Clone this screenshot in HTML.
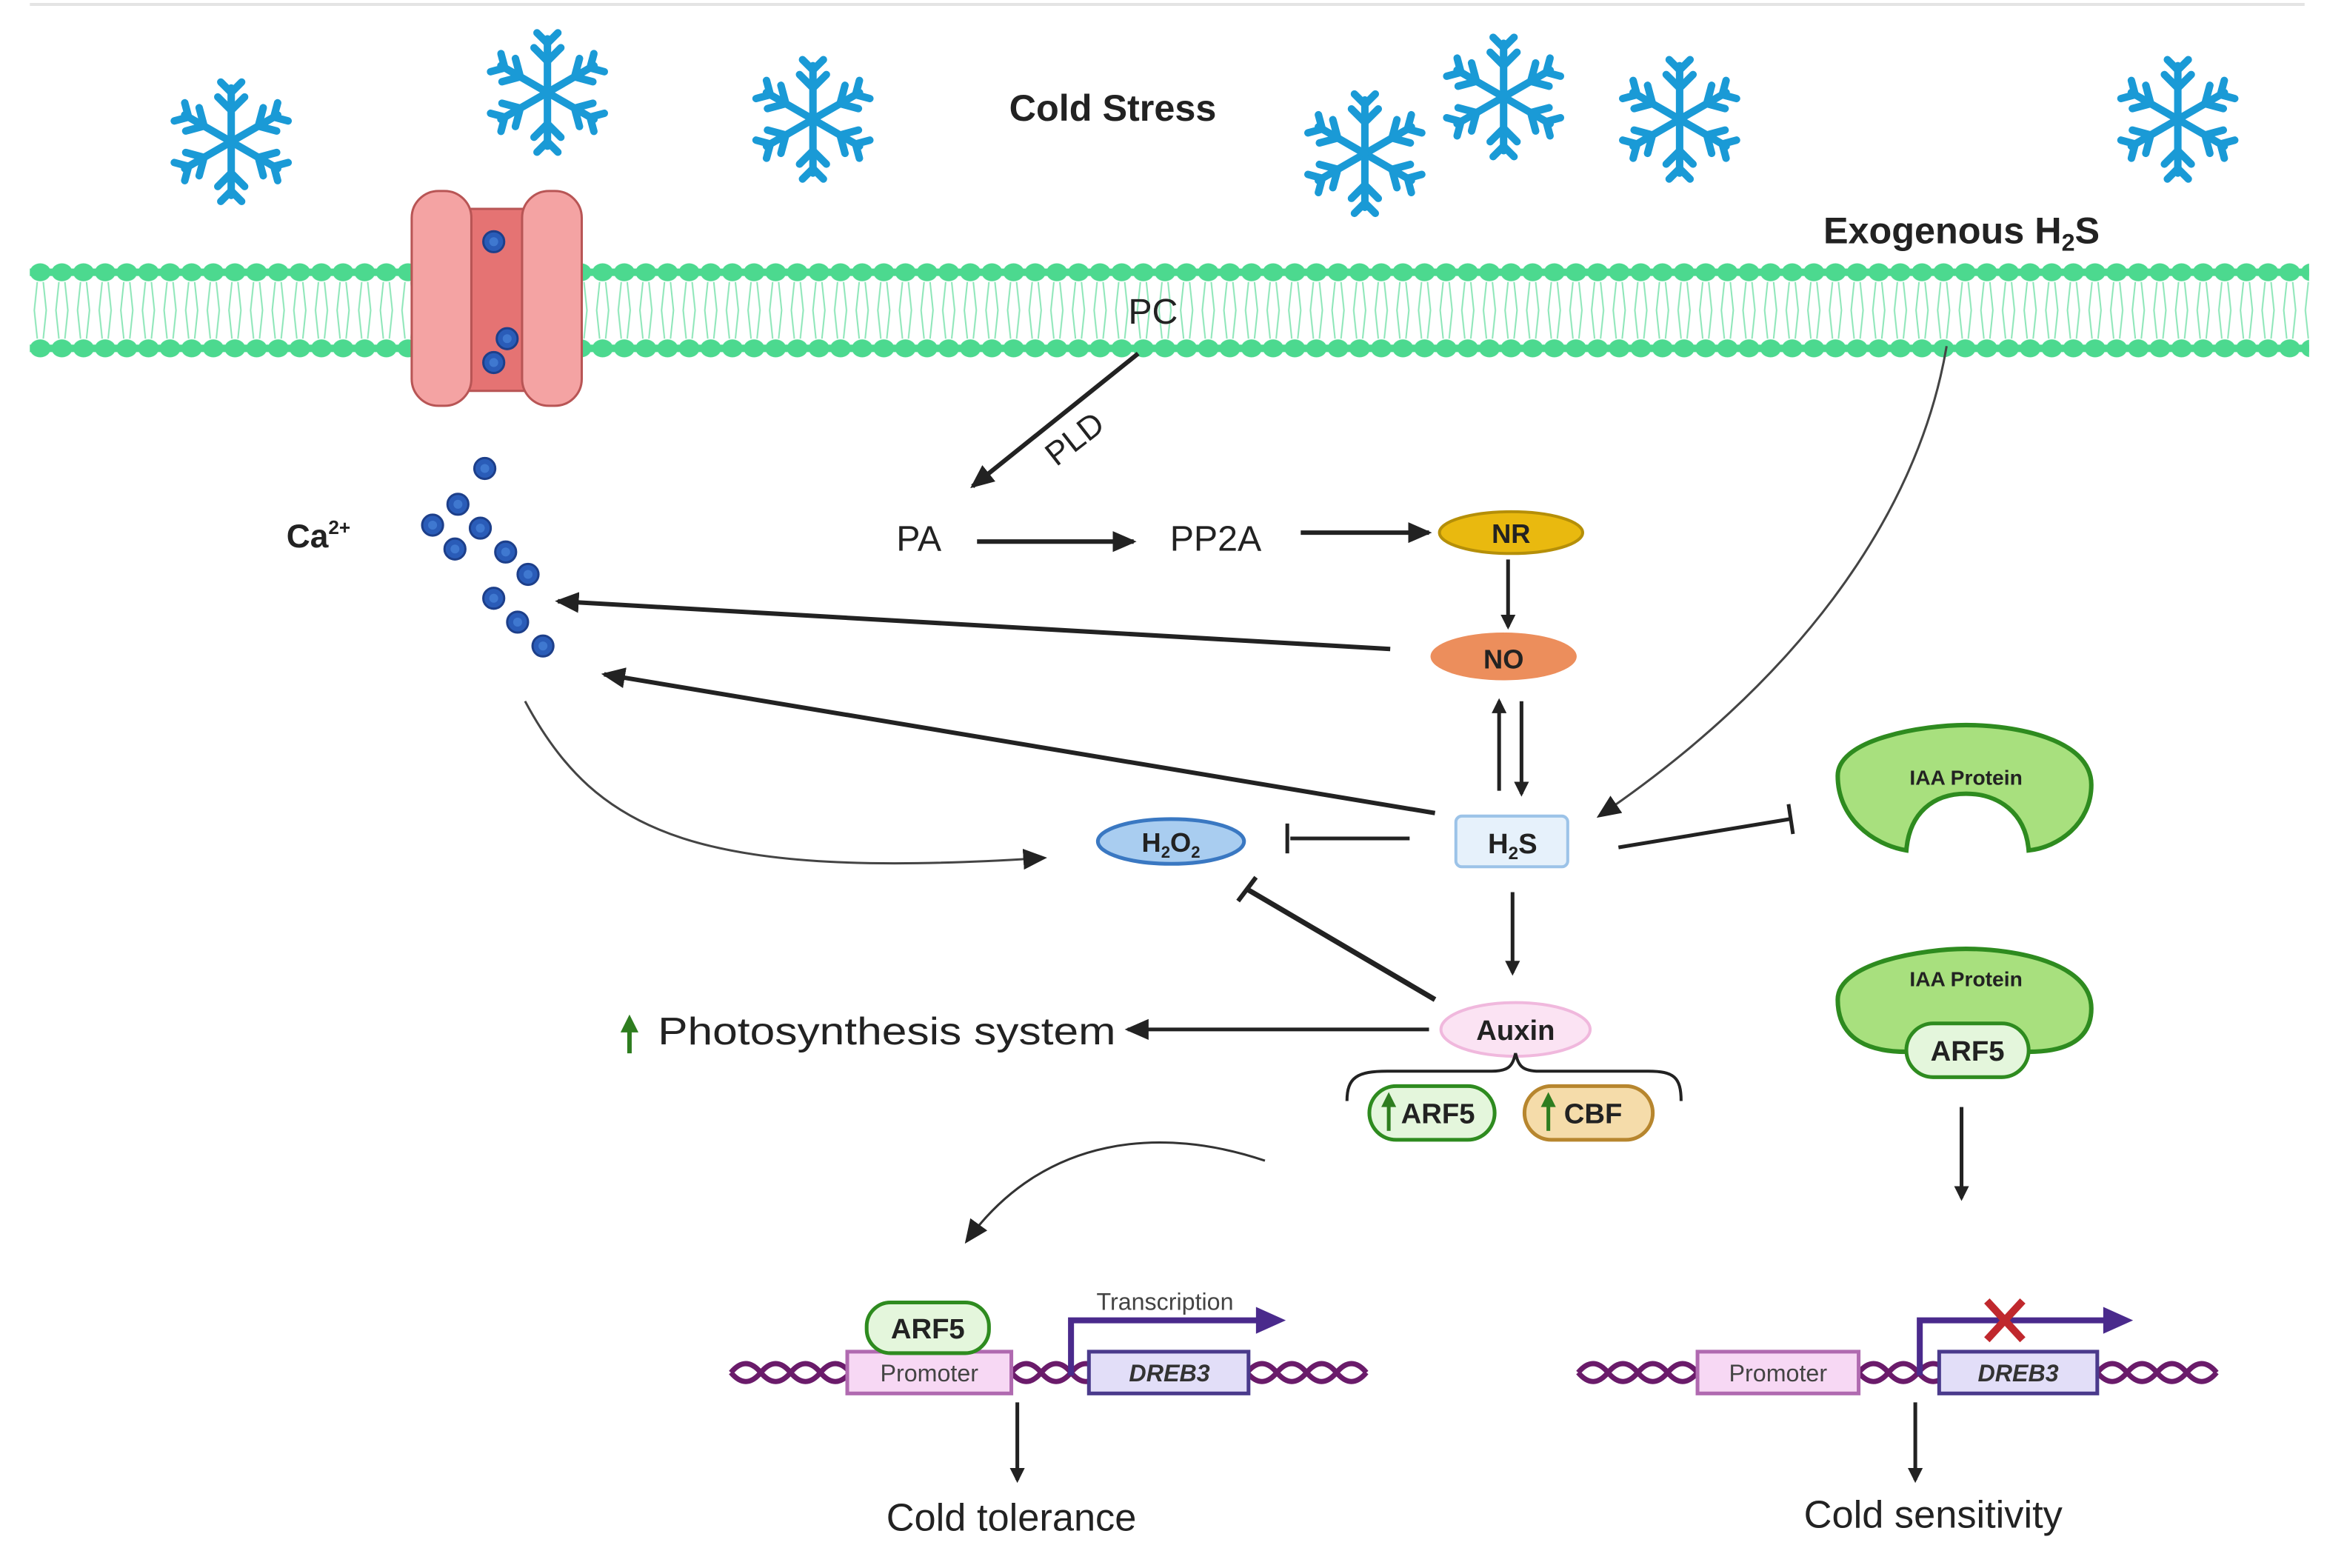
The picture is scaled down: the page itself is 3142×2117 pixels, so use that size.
<!DOCTYPE html>
<html><head><meta charset="utf-8"><style>
html,body{margin:0;padding:0;background:#fff;}
svg{display:block;}
text{font-family:"Liberation Sans",Arial,sans-serif;}
</style></head><body>
<svg width="3142" height="2117" viewBox="0 0 1560 1051" preserveAspectRatio="none" xmlns="http://www.w3.org/2000/svg">
<defs>
<marker id="ah" markerWidth="10" markerHeight="10" refX="8" refY="5" orient="auto" markerUnits="userSpaceOnUse"><path d="M0,0 L10,5 L0,10 z" fill="#222"/></marker>
<marker id="ahL" markerWidth="16" markerHeight="14" refX="14" refY="7" orient="auto" markerUnits="userSpaceOnUse"><path d="M0,0 L16,7 L0,14 z" fill="#222"/></marker>
<g id="flake" stroke="#1a9ad6" stroke-width="5" stroke-linecap="round" fill="none">
<g id="arm"><line x1="0" y1="0" x2="0" y2="-36"/><polyline points="-9,-30 0,-21 9,-30"/><polyline points="-7,-40 0,-33 7,-40"/></g>
<use href="#arm" transform="rotate(60)"/><use href="#arm" transform="rotate(120)"/><use href="#arm" transform="rotate(180)"/><use href="#arm" transform="rotate(240)"/><use href="#arm" transform="rotate(300)"/>
</g>
<g id="ion"><circle r="7" fill="#2a5cb8" stroke="#1d3f8a" stroke-width="1.5"/><circle r="3" fill="#3f78d0"/></g>
<pattern id="hp1" x="20" y="176" width="14.5" height="13" patternUnits="userSpaceOnUse"><ellipse cx="7" cy="6.5" rx="7" ry="6" fill="#4cd98f"/></pattern>
<pattern id="hp2" x="20" y="227" width="14.5" height="13" patternUnits="userSpaceOnUse"><ellipse cx="7" cy="6.5" rx="7" ry="6" fill="#4cd98f"/></pattern>
<pattern id="tails" x="20" y="189" width="14.5" height="38" patternUnits="userSpaceOnUse"><path d="M5,0 L3,19 L5,38 M9,0 L11,19 L9,38" stroke="#8de6b8" stroke-width="1" fill="none"/></pattern>
</defs>
<rect width="1560" height="1051" fill="#fff"/>
<line x1="20" y1="3" x2="1545" y2="3" stroke="#e4e4e4" stroke-width="2"/>

<use href="#flake" transform="translate(155,95)"/>
<use href="#flake" transform="translate(367,62)"/>
<use href="#flake" transform="translate(545,80)"/>
<use href="#flake" transform="translate(915,103)"/>
<use href="#flake" transform="translate(1008,65)"/>
<use href="#flake" transform="translate(1126,80)"/>
<use href="#flake" transform="translate(1460,80)"/>
<text x="746" y="81" font-size="25" font-weight="bold" text-anchor="middle" fill="#222">Cold Stress</text>
<text x="1315" y="163" font-size="25" font-weight="bold" text-anchor="middle" fill="#222">Exogenous H<tspan font-size="16" dy="5">2</tspan><tspan dy="-5">S</tspan></text>

<rect x="20" y="180" width="1528" height="5" fill="#4cd98f"/>
<rect x="20" y="231" width="1528" height="5" fill="#4cd98f"/>
<rect x="20" y="176" width="1528" height="13" fill="url(#hp1)"/>
<rect x="20" y="227" width="1528" height="13" fill="url(#hp2)"/>
<rect x="20" y="189" width="1528" height="38" fill="url(#tails)"/>

<g stroke="#b85555" stroke-width="1.5">
<rect x="310" y="140" width="46" height="122" fill="#e57373"/>
<rect x="276" y="128" width="40" height="144" rx="18" fill="#f4a3a3"/>
<rect x="350" y="128" width="40" height="144" rx="18" fill="#f4a3a3"/>
</g>
<use href="#ion" transform="translate(331,162)"/>
<use href="#ion" transform="translate(340,227)"/>
<use href="#ion" transform="translate(331,243)"/>

<text x="192" y="367" font-size="22" font-weight="bold" fill="#222">Ca<tspan font-size="13" dy="-9">2+</tspan></text>
<use href="#ion" transform="translate(325,314)"/>
<use href="#ion" transform="translate(307,338)"/>
<use href="#ion" transform="translate(290,352)"/>
<use href="#ion" transform="translate(322,354)"/>
<use href="#ion" transform="translate(305,368)"/>
<use href="#ion" transform="translate(339,370)"/>
<use href="#ion" transform="translate(354,385)"/>
<use href="#ion" transform="translate(331,401)"/>
<use href="#ion" transform="translate(347,417)"/>
<use href="#ion" transform="translate(364,433)"/>

<text x="773" y="217" font-size="24" text-anchor="middle" fill="#222">PC</text>
<line x1="763" y1="237" x2="652" y2="326" stroke="#222" stroke-width="3" marker-end="url(#ahL)"/>
<text x="725" y="300" font-size="22" fill="#222" transform="rotate(-38 725 300)" text-anchor="middle">PLD</text>
<text x="616" y="369" font-size="24" text-anchor="middle" fill="#222">PA</text>
<line x1="655" y1="363" x2="760" y2="363" stroke="#222" stroke-width="3" marker-end="url(#ahL)"/>
<text x="815" y="369" font-size="24" text-anchor="middle" fill="#222">PP2A</text>
<line x1="872" y1="357" x2="958" y2="357" stroke="#222" stroke-width="3" marker-end="url(#ahL)"/>

<ellipse cx="1013" cy="357" rx="48" ry="14" fill="#e9b90f" stroke="#b58f08" stroke-width="2"/>
<text x="1013" y="364" font-size="18" font-weight="bold" text-anchor="middle" fill="#222">NR</text>
<line x1="1011" y1="375" x2="1011" y2="420" stroke="#222" stroke-width="2.5" marker-end="url(#ah)"/>
<ellipse cx="1008" cy="440" rx="49" ry="16" fill="#ec8e5c"/>
<text x="1008" y="448" font-size="18" font-weight="bold" text-anchor="middle" fill="#222">NO</text>
<line x1="1005" y1="530" x2="1005" y2="470" stroke="#222" stroke-width="2.5" marker-end="url(#ah)"/>
<line x1="1020" y1="470" x2="1020" y2="532" stroke="#222" stroke-width="2.5" marker-end="url(#ah)"/>

<line x1="932" y1="435" x2="374" y2="403" stroke="#222" stroke-width="3" marker-end="url(#ahL)"/>
<line x1="962" y1="545" x2="405" y2="452" stroke="#222" stroke-width="3" marker-end="url(#ahL)"/>

<path d="M1305,232 C1285,350 1200,460 1072,547" stroke="#444" stroke-width="1.5" fill="none" marker-end="url(#ahL)"/>

<rect x="976" y="547" width="75" height="34" rx="4" fill="#e6f1fb" stroke="#9cc3e8" stroke-width="2"/>
<text x="1014" y="572" font-size="19" font-weight="bold" text-anchor="middle" fill="#222">H<tspan font-size="12" dy="4">2</tspan><tspan dy="-4">S</tspan></text>

<ellipse cx="785" cy="564" rx="49" ry="15" fill="#a9cdf0" stroke="#3a78c2" stroke-width="2.5"/>
<text x="785" y="571" font-size="18" font-weight="bold" text-anchor="middle" fill="#222">H<tspan font-size="11" dy="4">2</tspan><tspan dy="-4">O</tspan><tspan font-size="11" dy="4">2</tspan></text>
<line x1="945" y1="562" x2="865" y2="562" stroke="#222" stroke-width="2.5"/>
<line x1="863" y1="552" x2="863" y2="572" stroke="#222" stroke-width="2.5"/>
<line x1="962" y1="670" x2="836" y2="596" stroke="#222" stroke-width="3.5"/>
<line x1="830" y1="604" x2="842" y2="588" stroke="#222" stroke-width="3"/>
<path d="M352,470 C400,560 470,590 700,575" stroke="#444" stroke-width="1.5" fill="none" marker-end="url(#ahL)"/>

<line x1="1085" y1="568" x2="1200" y2="549" stroke="#222" stroke-width="2.5"/>
<line x1="1199" y1="539" x2="1202" y2="559" stroke="#222" stroke-width="2.5"/>
<path d="M1232,520 C1232,495 1290,486 1318,486 C1350,486 1402,495 1402,526 C1402,552 1380,568 1360,570 C1358,545 1340,532 1318,532 C1296,532 1280,545 1278,570 C1255,566 1232,548 1232,520 Z" fill="#a8e07e" stroke="#2e8b1f" stroke-width="3"/>
<text x="1318" y="526" font-size="14" font-weight="bold" text-anchor="middle" fill="#222">IAA Protein</text>
<path d="M1232,670 C1232,645 1290,636 1318,636 C1350,636 1402,645 1402,676 C1402,700 1380,705 1360,705 L1278,705 C1255,705 1232,698 1232,670 Z" fill="#a8e07e" stroke="#2e8b1f" stroke-width="3"/>
<text x="1318" y="661" font-size="14" font-weight="bold" text-anchor="middle" fill="#222">IAA Protein</text>
<rect x="1278" y="686" width="82" height="36" rx="18" fill="#e4f6dc" stroke="#2e8b1f" stroke-width="2.5"/>
<text x="1319" y="711" font-size="19" font-weight="bold" text-anchor="middle" fill="#222">ARF5</text>
<line x1="1315" y1="742" x2="1315" y2="803" stroke="#222" stroke-width="2.5" marker-end="url(#ah)"/>

<line x1="1014" y1="598" x2="1014" y2="652" stroke="#222" stroke-width="2.5" marker-end="url(#ah)"/>
<ellipse cx="1016" cy="690" rx="50" ry="18" fill="#fbe3f3" stroke="#f0b8dd" stroke-width="2"/>
<text x="1016" y="697" font-size="19" font-weight="bold" text-anchor="middle" fill="#222">Auxin</text>
<line x1="958" y1="690" x2="756" y2="690" stroke="#222" stroke-width="2.5" marker-end="url(#ahL)"/>
<text x="441" y="700" font-size="26" fill="#222" textLength="307" lengthAdjust="spacingAndGlyphs">Photosynthesis system</text>
<line x1="422" y1="706" x2="422" y2="690" stroke="#2e7d1f" stroke-width="3"/>
<path d="M416,692 L422,680 L428,692 Z" fill="#2e7d1f"/>
<path d="M903,738 C903,722 910,718 930,718 L1000,718 C1012,718 1014,714 1016,706 C1018,714 1020,718 1032,718 L1105,718 C1122,718 1127,722 1127,738" stroke="#222" stroke-width="2" fill="none"/>
<rect x="918" y="728" width="84" height="36" rx="18" fill="#e4f6dc" stroke="#2e8b1f" stroke-width="2.5"/>
<text x="964" y="753" font-size="19" font-weight="bold" text-anchor="middle" fill="#222">ARF5</text>
<line x1="931" y1="758" x2="931" y2="740" stroke="#2e7d1f" stroke-width="2.5"/><path d="M926,742 L931,732 L936,742 Z" fill="#2e7d1f"/>
<rect x="1022" y="728" width="86" height="36" rx="18" fill="#f5dcaa" stroke="#b7862e" stroke-width="2.5"/>
<text x="1068" y="753" font-size="19" font-weight="bold" text-anchor="middle" fill="#222">CBF</text>
<line x1="1038" y1="758" x2="1038" y2="740" stroke="#2e7d1f" stroke-width="2.5"/><path d="M1033,742 L1038,732 L1043,742 Z" fill="#2e7d1f"/>

<path d="M848,778 C780,755 700,760 648,832" stroke="#333" stroke-width="1.5" fill="none" marker-end="url(#ahL)"/>

<g stroke="#6a1b6a" stroke-width="3.5" fill="none">
<path d="M490,920 q10,-12 20,0 t20,0 t20,0 t20,0 M490,920 q10,12 20,0 t20,0 t20,0 t20,0"/>
<path d="M678,920 q10,-12 20,0 t20,0 t20,0 M678,920 q10,12 20,0 t20,0 t20,0"/>
<path d="M836,920 q10,-12 20,0 t20,0 t20,0 t20,0 M836,920 q10,12 20,0 t20,0 t20,0 t20,0"/>
<path d="M1058,920 q10,-12 20,0 t20,0 t20,0 t20,0 M1058,920 q10,12 20,0 t20,0 t20,0 t20,0"/>
<path d="M1246,920 q10,-12 20,0 t20,0 t20,0 M1246,920 q10,12 20,0 t20,0 t20,0"/>
<path d="M1406,920 q10,-12 20,0 t20,0 t20,0 t20,0 M1406,920 q10,12 20,0 t20,0 t20,0 t20,0"/>
</g>
<rect x="568" y="906" width="110" height="28" fill="#f7d8f4" stroke="#b06ab0" stroke-width="2.5"/>
<text x="623" y="926" font-size="16" text-anchor="middle" fill="#444">Promoter</text>
<rect x="730" y="906" width="107" height="28" fill="#e2def8" stroke="#4a3a8c" stroke-width="2.5"/>
<text x="784" y="926" font-size="16" font-weight="bold" font-style="italic" text-anchor="middle" fill="#333">DREB3</text>
<rect x="581" y="873" width="82" height="34" rx="16" fill="#e4f6dc" stroke="#2e8b1f" stroke-width="2.5"/>
<text x="622" y="897" font-size="19" font-weight="bold" text-anchor="middle" fill="#222">ARF5</text>
<path d="M718,922 L718,885 L845,885" stroke="#4a2a8c" stroke-width="4" fill="none"/>
<path d="M842,876 L862,885 L842,894 Z" fill="#4a2a8c"/>
<text x="781" y="878" font-size="16" text-anchor="middle" fill="#444">Transcription</text>
<line x1="682" y1="940" x2="682" y2="992" stroke="#222" stroke-width="2.5" marker-end="url(#ah)"/>
<text x="678" y="1026" font-size="26" text-anchor="middle" fill="#222">Cold tolerance</text>

<rect x="1138" y="906" width="108" height="28" fill="#f7d8f4" stroke="#b06ab0" stroke-width="2.5"/>
<text x="1192" y="926" font-size="16" text-anchor="middle" fill="#444">Promoter</text>
<rect x="1300" y="906" width="106" height="28" fill="#e2def8" stroke="#4a3a8c" stroke-width="2.5"/>
<text x="1353" y="926" font-size="16" font-weight="bold" font-style="italic" text-anchor="middle" fill="#333">DREB3</text>
<path d="M1287,922 L1287,885 L1413,885" stroke="#4a2a8c" stroke-width="4" fill="none"/>
<path d="M1410,876 L1430,885 L1410,894 Z" fill="#4a2a8c"/>
<g stroke="#c0282d" stroke-width="5"><line x1="1332" y1="872" x2="1356" y2="898"/><line x1="1356" y1="872" x2="1332" y2="898"/></g>
<line x1="1284" y1="940" x2="1284" y2="992" stroke="#222" stroke-width="2.5" marker-end="url(#ah)"/>
<text x="1296" y="1024" font-size="26" text-anchor="middle" fill="#222">Cold sensitivity</text>
</svg>
</body></html>
